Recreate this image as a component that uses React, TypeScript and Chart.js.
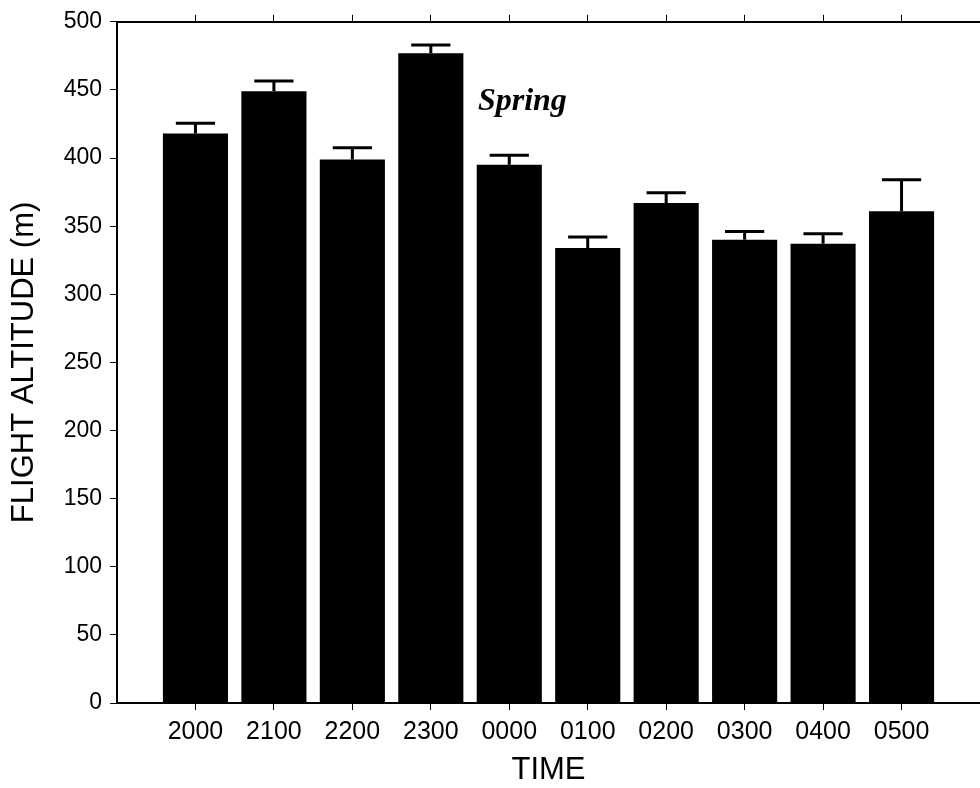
import React, { useEffect, useRef } from 'react';
import { Chart, registerables } from 'chart.js';

Chart.register(...registerables);

const categories = ['2000', '2100', '2200', '2300', '0000', '0100', '0200', '0300', '0400', '0500'];
const meanAltitude = [418, 449, 399, 477, 395, 334, 367, 340, 337, 361];
const stdError = [7.5, 7.5, 8.5, 6, 7, 8, 7.5, 6, 7.5, 23];
const yTickValues = [0, 50, 100, 150, 200, 250, 300, 350, 400, 450, 500];
const seasonLabel = 'Spring';
const seasonLabelAt = { x: 3.6, y: 435 };

const SANS = '"Liberation Sans", Arial, Helvetica, sans-serif';

const errorBarPlugin = {
  id: 'errorBars',
  afterDatasetsDraw(chart: any) {
    const { ctx, scales } = chart;
    const x = scales.x;
    const y = scales.y;
    const half = Math.abs(x.getPixelForValue(0.25) - x.getPixelForValue(0));
    ctx.save();
    ctx.strokeStyle = '#000';
    ctx.lineWidth = 3;
    ctx.lineCap = 'butt';
    meanAltitude.forEach((v, i) => {
      const px = x.getPixelForValue(i);
      const base = y.getPixelForValue(v);
      const top = y.getPixelForValue(v + stdError[i]);
      ctx.beginPath();
      ctx.moveTo(px, base);
      ctx.lineTo(px, top);
      ctx.moveTo(px - half, top);
      ctx.lineTo(px + half, top);
      ctx.stroke();
    });
    ctx.font = 'italic bold 32px "Liberation Serif", "Times New Roman", serif';
    ctx.fillStyle = '#000';
    ctx.textAlign = 'left';
    ctx.textBaseline = 'alphabetic';
    ctx.fillText(seasonLabel, x.getPixelForValue(seasonLabelAt.x), y.getPixelForValue(seasonLabelAt.y));
    ctx.restore();
  },
};

const catTicks = (scale: any) => {
  scale.ticks = categories.map((_, i) => ({ value: i }));
};

const axisGrid = {
  drawOnChartArea: false,
  drawTicks: true,
  offset: false,
  tickLength: 7,
  tickColor: '#000',
  tickWidth: 1,
  color: '#000',
};

export default function App() {
  const ref = useRef<HTMLCanvasElement | null>(null);
  useEffect(() => {
    if (!ref.current) return;
    const chart = new Chart(ref.current, {
      type: 'bar',
      data: {
        datasets: [
          {
            label: 'Flight altitude',
            data: meanAltitude.map((v, i) => ({ x: i, y: v })),
            backgroundColor: '#000',
            borderWidth: 0,
            barPercentage: 0.83,
            categoryPercentage: 1,
            xAxisID: 'x',
            yAxisID: 'y',
          },
        ],
      },
      options: {
        responsive: false,
        animation: false,
        devicePixelRatio: 1,
        layout: { padding: 0 },
        plugins: {
          legend: { display: false },
          tooltip: { enabled: false },
          title: { display: false },
        },
        scales: {
          x: {
            type: 'linear',
            position: 'bottom',
            offset: false,
            min: -1,
            max: 10,
            afterBuildTicks: catTicks,
            afterFit: (s: any) => {
              s.height = 85;
            },
            ticks: {
              color: '#000',
              font: { family: SANS, size: 25 },
              padding: 7,
              maxRotation: 0,
              autoSkip: false,
              callback: (v: any) => categories[v as number] ?? '',
            },
            grid: axisGrid,
            border: { display: true, color: '#000', width: 2 },
            title: {
              display: true,
              text: 'TIME',
              color: '#000',
              font: { family: SANS, size: 31, lineHeight: 1 },
              padding: { top: 0, bottom: 2 },
            },
          },
          x2: {
            type: 'linear',
            position: 'top',
            offset: false,
            min: -1,
            max: 10,
            afterBuildTicks: catTicks,
            afterFit: (s: any) => {
              s.height = 19;
            },
            ticks: { display: true, autoSkip: false, maxRotation: 0, callback: () => '' },
            grid: axisGrid,
            border: { display: true, color: '#000', width: 2 },
          },
          y: {
            type: 'linear',
            position: 'left',
            min: 0,
            max: 500,
            afterBuildTicks: (s: any) => {
              s.ticks = yTickValues.map((v) => ({ value: v }));
            },
            afterFit: (s: any) => {
              s.width = 117;
            },
            ticks: {
              color: '#000',
              font: { family: SANS, size: 23 },
              padding: 8,
            },
            grid: axisGrid,
            border: { display: true, color: '#000', width: 2 },
            title: {
              display: true,
              text: 'FLIGHT ALTITUDE (m)',
              color: '#000',
              font: { family: SANS, size: 31, lineHeight: 1 },
              padding: { top: 9, bottom: 0 },
            },
          },
        },
      },
      plugins: [errorBarPlugin],
    } as any);
    return () => chart.destroy();
  }, []);
  return (
    <div style={{ position: 'absolute', left: 0, top: 0, width: 980, height: 788, background: '#fff', overflow: 'hidden' }}>
      <canvas ref={ref} width={980} height={788} style={{ display: 'block' }} />
    </div>
  );
}
